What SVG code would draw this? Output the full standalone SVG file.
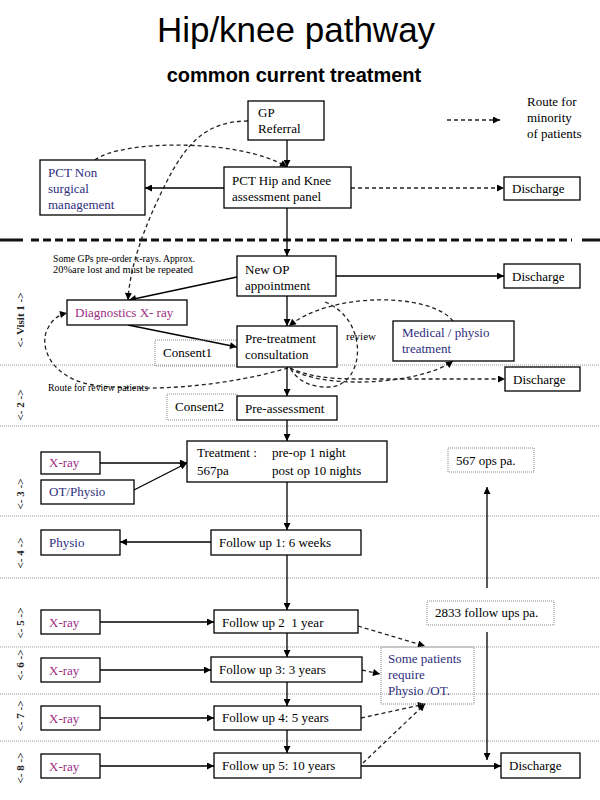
<svg xmlns="http://www.w3.org/2000/svg" width="600" height="800" viewBox="0 0 600 800">
<defs>
<marker id="ah" viewBox="0 0 10 10" refX="10" refY="5" markerWidth="8" markerHeight="7" markerUnits="userSpaceOnUse" orient="auto"><path d="M0,0 L10,5 L0,10 z" fill="#000"/></marker>
<style>
text{font-family:"Liberation Serif","Times New Roman",serif;font-size:13px;fill:#000}
.title{font-family:"Liberation Sans",Arial,sans-serif;font-size:35px;text-anchor:middle}
.sub{font-family:"Liberation Sans",Arial,sans-serif;font-size:20px;font-weight:bold;text-anchor:middle}
.box{fill:#fff;stroke:#000;stroke-width:1.3}
.dbox{fill:none;stroke:#888;stroke-width:1;stroke-dasharray:1 1}
.lane{stroke:#999;stroke-width:1;stroke-dasharray:1 1;fill:none}
.ln{stroke:#000;stroke-width:1.3;fill:none;marker-end:url(#ah)}
.dl{stroke:#222;stroke-width:1.3;fill:none;stroke-dasharray:4 3;marker-end:url(#ah)}
.mag{fill:#9b2d7f}
.navy{fill:#2e2e80}
.small{font-size:10px}
.vlab{font-size:11px;font-weight:bold;text-anchor:middle;fill:#222}
</style>
</defs>
<rect width="600" height="800" fill="#fff"/>
<text class="title" x="296" y="42">Hip/knee pathway</text>
<text class="sub" x="294" y="82">common current treatment</text>

<g id="lanes">
<line class="lane" x1="0" y1="365" x2="600" y2="365"/>
<line class="lane" x1="0" y1="426" x2="600" y2="426"/>
<line class="lane" x1="0" y1="516" x2="600" y2="516"/>
<line class="lane" x1="0" y1="578" x2="600" y2="578"/>
<line class="lane" x1="0" y1="647" x2="600" y2="647"/>
<line class="lane" x1="0" y1="694" x2="600" y2="694"/>
<line class="lane" x1="0" y1="741" x2="600" y2="741"/>
</g>
<g id="divider" stroke="#111" stroke-width="3">
<line x1="0" y1="240" x2="23" y2="240"/>
<line x1="31" y1="240" x2="572" y2="240" stroke-dasharray="8 4"/>
<line x1="582" y1="240" x2="600" y2="240"/>
</g>
<g id="visit-labels">
<text class="vlab" transform="translate(24,320) rotate(-90)">&lt;- Visit 1 -&gt;</text>
<text class="vlab" transform="translate(24,405) rotate(-90)">&lt;- 2 -&gt;</text>
<text class="vlab" transform="translate(24,494) rotate(-90)">&lt;- 3 -&gt;</text>
<text class="vlab" transform="translate(24,553) rotate(-90)">&lt;- 4 -&gt;</text>
<text class="vlab" transform="translate(24,623) rotate(-90)">&lt;- 5 -&gt;</text>
<text class="vlab" transform="translate(24,665) rotate(-90)">&lt;- 6 -&gt;</text>
<text class="vlab" transform="translate(24,716) rotate(-90)">&lt;- 7 -&gt;</text>
<text class="vlab" transform="translate(24,768) rotate(-90)">&lt;- 8 -&gt;</text>
</g>

<g id="connectors">
<path class="ln" d="M287,140 V167"/>
<path class="ln" d="M224,188 H145"/>
<path class="dl" d="M351,188 H504"/>
<path class="ln" d="M287,208 V256"/>
<path class="dl" d="M95,160 C120,140 240,138 287,167"/>
<path class="dl" d="M248,121 C205,121 185,145 165,185 C145,225 130,265 128,300"/>
<path class="dl" d="M447,120 H500"/>
<path class="ln" d="M336,276 H504"/>
<path class="ln" d="M237,277 L129,300"/>
<path class="ln" d="M287,296 V326"/>
<path class="ln" d="M128,325 L237,347"/>
<path class="dl" d="M453,321 C430,292 330,292 289,326"/>
<path class="dl" style="marker-end:none" d="M325,302 C370,320 365,385 330,387 C310,388 297,380 290,368"/>
<path class="dl" d="M290,368 C320,390 420,385 453,361"/>
<path class="dl" d="M290,368 C310,377 330,379 360,379 H505"/>
<path class="dl" d="M288,368 C230,385 160,392 100,386 C50,381 38,345 48,328 C52,320 58,315 67,313"/>
<path class="ln" d="M287,367 V396"/>
<path class="ln" d="M287,420 V441"/>
<path class="ln" d="M100,463 H187"/>
<path class="ln" d="M134,490 L187,463"/>
<path class="ln" d="M287,482 V530"/>
<path class="ln" d="M211,542 H120"/>
<path class="ln" d="M287,555 V610"/>
<path class="ln" d="M487,588 V487"/>
<path class="ln" d="M487,632 V760"/>
<path class="ln" d="M100,622 H214"/>
<path class="ln" d="M100,670 H211"/>
<path class="ln" d="M100,718 H214"/>
<path class="ln" d="M100,766 H214"/>
<path class="ln" d="M287,633 V657"/>
<path class="ln" d="M287,682 V706"/>
<path class="ln" d="M287,730 V753"/>
<path class="ln" d="M361,766 H501"/>
<path class="dl" d="M358,626 L425,646"/>
<path class="dl" d="M362,670 L380,674"/>
<path class="dl" d="M361,718 L425,704"/>
<path class="dl" d="M363,763 L425,704"/>
</g>

<g id="legend"><text x="527" y="106">Route for</text><text x="527" y="122">minority</text><text x="527" y="138">of patients</text></g>
<g id="note-gps"><text class="small" x="53" y="262" textLength="142" lengthAdjust="spacingAndGlyphs">Some GPs pre-order x-rays. Approx.</text><text class="small" x="53" y="273" textLength="140" lengthAdjust="spacingAndGlyphs">20%are lost  and must be repeated</text></g>
<g id="note-review"><text class="small" x="48" y="391" textLength="100" lengthAdjust="spacingAndGlyphs">Route for review patients</text></g>
<g id="note-review2"><text class="small" x="346" y="340" textLength="30" lengthAdjust="spacingAndGlyphs">review</text></g>

<g id="gp-referral"><rect class="box" x="248" y="101" width="76" height="39"/><text x="258" y="117">GP</text><text x="258" y="133">Referral</text></g>
<g id="pct-non"><rect class="box" x="40" y="160" width="105" height="55"/><text class="navy" x="48" y="177">PCT Non</text><text class="navy" x="48" y="193">surgical</text><text class="navy" x="48" y="209">management</text></g>
<g id="pct-hip"><rect class="box" x="224" y="167" width="127" height="41"/><text x="232" y="185">PCT Hip and Knee</text><text x="232" y="201">assessment panel</text></g>
<g id="discharge-1"><rect class="box" x="504" y="177" width="76" height="23"/><text x="512" y="193">Discharge</text></g>
<g id="new-op"><rect class="box" x="237" y="256" width="99" height="40"/><text x="245" y="274">New OP</text><text x="245" y="290">appointment</text></g>
<g id="discharge-2"><rect class="box" x="504" y="264" width="76" height="24"/><text x="512" y="281">Discharge</text></g>
<g id="diagnostics"><rect class="box" x="67" y="300" width="120" height="25"/><text class="mag" x="75" y="317">Diagnostics X- ray</text></g>
<g id="consent1"><rect class="dbox" x="155" y="340" width="82" height="26"/><text x="163" y="357">Consent1</text></g>
<g id="pre-treatment"><rect class="box" x="237" y="326" width="100" height="41"/><text x="245" y="343">Pre-treatment</text><text x="245" y="359">consultation</text></g>
<g id="medical"><rect class="box" x="393" y="321" width="121" height="40"/><text class="navy" x="402" y="337">Medical / physio</text><text class="navy" x="402" y="353">treatment</text></g>
<g id="discharge-3"><rect class="box" x="505" y="367" width="75" height="24"/><text x="513" y="384">Discharge</text></g>
<g id="consent2"><rect class="dbox" x="167" y="394" width="70" height="26"/><text x="175" y="411">Consent2</text></g>
<g id="pre-assessment"><rect class="box" x="237" y="396" width="100" height="24"/><text x="245" y="413">Pre-assessment</text></g>
<g id="treatment"><rect class="box" x="187" y="441" width="200" height="41"/><text x="197" y="457">Treatment :</text><text x="272" y="457">pre-op 1 night</text><text x="197" y="475">567pa</text><text x="272" y="475">post op 10 nights</text></g>
<g id="xray-3"><rect class="box" x="41" y="452" width="59" height="22"/><text class="mag" x="49" y="467">X-ray</text></g>
<g id="ot-physio"><rect class="box" x="41" y="480" width="93" height="24"/><text class="navy" x="49" y="496">OT/Physio</text></g>
<g id="ops-567"><rect class="dbox" x="448" y="448" width="86" height="24"/><text x="456" y="465">567 ops  pa.</text></g>
<g id="follow-up-1"><rect class="box" x="211" y="530" width="150" height="25"/><text x="219" y="547">Follow up 1: 6 weeks</text></g>
<g id="physio"><rect class="box" x="41" y="530" width="79" height="25"/><text class="navy" x="49" y="547">Physio</text></g>
<g id="follow-ups-2833"><rect class="dbox" x="427" y="601" width="127" height="24"/><text x="435" y="617">2833 follow ups pa.</text></g>
<g id="follow-up-2"><rect class="box" x="214" y="610" width="144" height="23"/><text x="222" y="627" xml:space="preserve">Follow up 2  1 year</text></g>
<g id="xray-5"><rect class="box" x="41" y="610" width="59" height="24"/><text class="mag" x="49" y="627">X-ray</text></g>
<g id="follow-up-3"><rect class="box" x="211" y="657" width="151" height="25"/><text x="219" y="674">Follow up 3: 3 years</text></g>
<g id="xray-6"><rect class="box" x="41" y="658" width="59" height="24"/><text class="mag" x="49" y="675">X-ray</text></g>
<g id="some-patients"><rect class="dbox" x="381" y="647" width="93" height="57"/><text class="navy" x="388" y="663">Some patients</text><text class="navy" x="388" y="679">require</text><text class="navy" x="388" y="695">Physio /OT.</text></g>
<g id="follow-up-4"><rect class="box" x="214" y="706" width="147" height="24"/><text x="222" y="722">Follow up 4: 5 years</text></g>
<g id="xray-7"><rect class="box" x="41" y="706" width="59" height="24"/><text class="mag" x="49" y="723">X-ray</text></g>
<g id="follow-up-5"><rect class="box" x="214" y="753" width="147" height="25"/><text x="222" y="770">Follow up 5: 10 years</text></g>
<g id="xray-8"><rect class="box" x="41" y="754" width="59" height="24"/><text class="mag" x="49" y="771">X-ray</text></g>
<g id="discharge-4"><rect class="box" x="501" y="753" width="79" height="25"/><text x="509" y="770">Discharge</text></g>
</svg>
